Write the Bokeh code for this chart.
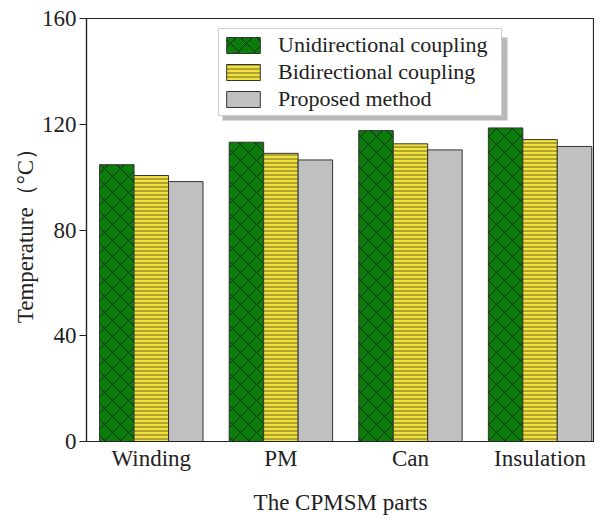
from bokeh.plotting import figure
from bokeh.models import (Range1d, FixedTicker, Legend, LegendItem, BoxAnnotation,
                          ColumnDataSource)
from bokeh.embed import file_html
from bokeh.resources import INLINE

categories = ["Winding", "PM", "Can", "Insulation"]
series_names = ["Unidirectional coupling", "Bidirectional coupling", "Proposed method"]
unidirectional = [104.7, 113.2, 117.6, 118.6]
bidirectional = [100.6, 109.0, 112.6, 114.2]
proposed = [98.3, 106.5, 110.3, 111.6]
y_ticks = [0, 40, 80, 120, 160]

FONT = "Liberation Serif"
bar_w = 0.266

p = figure(width=594, height=517, output_backend="svg", toolbar_location=None,
           x_range=Range1d(0, 3.92), y_range=Range1d(0, 160),
           min_border_left=86, min_border_top=18, min_border_right=0,
           min_border_bottom=76)
p.grid.visible = False
p.outline_line_color = "#222222"
p.outline_line_width = 1.2
p.background_fill_color = "white"

centers = [i + 0.5 for i in range(len(categories))]
series = [unidirectional, bidirectional, proposed]
styles = [
    dict(fill_color="#0a7d0a", hatch_pattern="diagonal_cross", hatch_color="#0a2a0a",
         hatch_scale=16, hatch_weight=1.0),
    dict(fill_color="#f2e33c", hatch_pattern="horizontal_line", hatch_color="#6b6428",
         hatch_scale=4, hatch_weight=1.0),
    dict(fill_color="#c0c0c0"),
]
renderers = []
for k, (vals, st) in enumerate(zip(series, styles)):
    xs = [c + (k - 1) * bar_w for c in centers]
    src = ColumnDataSource(dict(x=xs, top=vals))
    r = p.vbar(x="x", top="top", width=bar_w, bottom=0, source=src,
               line_color="#333333", line_width=1, **st)
    renderers.append(r)

# y axis
p.yaxis.ticker = FixedTicker(ticks=y_ticks)
p.yaxis.minor_tick_line_color = None
p.yaxis.major_tick_out = 7
p.yaxis.major_tick_in = 0
p.yaxis.major_label_standoff = 3
p.yaxis.axis_label = "Temperature（°C）"
p.yaxis.axis_label_standoff = 1

# x axis
p.xaxis.ticker = FixedTicker(ticks=centers)
p.xaxis.major_label_overrides = {c: name for c, name in zip(centers, categories)}
p.xaxis.minor_tick_line_color = None
p.xaxis.major_tick_out = 0
p.xaxis.major_tick_in = 0
p.xaxis.major_label_standoff = 4
p.xaxis.axis_label = "The CPMSM parts"
p.xaxis.axis_label_standoff = 16

for ax in (p.xaxis, p.yaxis):
    ax.axis_line_color = "#222222"
    ax.axis_line_width = 1.2
    ax.major_label_text_font = FONT
    ax.major_label_text_font_size = "23px"
    ax.major_label_text_color = "#222222"
    ax.axis_label_text_font = FONT
    ax.axis_label_text_font_size = "23px"
    ax.axis_label_text_font_style = "normal"
    ax.axis_label_text_color = "#222222"
p.yaxis.major_tick_line_color = "#222222"
p.xaxis.major_tick_line_color = None

# legend shadow (canvas pixels)
shadow = BoxAnnotation(left=222, right=507, top=37, bottom=120,
                       left_units="canvas", right_units="canvas",
                       top_units="canvas", bottom_units="canvas",
                       fill_color="#b8b8b8", fill_alpha=1.0, line_color=None)
p.add_layout(shadow)

legend = Legend(items=[LegendItem(label=n, renderers=[r]) for n, r in zip(series_names, renderers)],
                location=(132, 325))
legend.label_text_font = FONT
legend.label_text_font_size = "22px"
legend.label_text_line_height = 1.0
legend.label_text_color = "#222222"
legend.glyph_width = 42
legend.glyph_height = 20
legend.label_height = 20
legend.label_width = 220
legend.spacing = 1
legend.padding = 3
legend.label_standoff = 14
legend.border_line_color = "#a0a0a0"
legend.border_line_width = 1
legend.background_fill_color = "white"
legend.background_fill_alpha = 1.0
p.add_layout(legend)

open("out.html", "w").write(file_html(p, INLINE))
